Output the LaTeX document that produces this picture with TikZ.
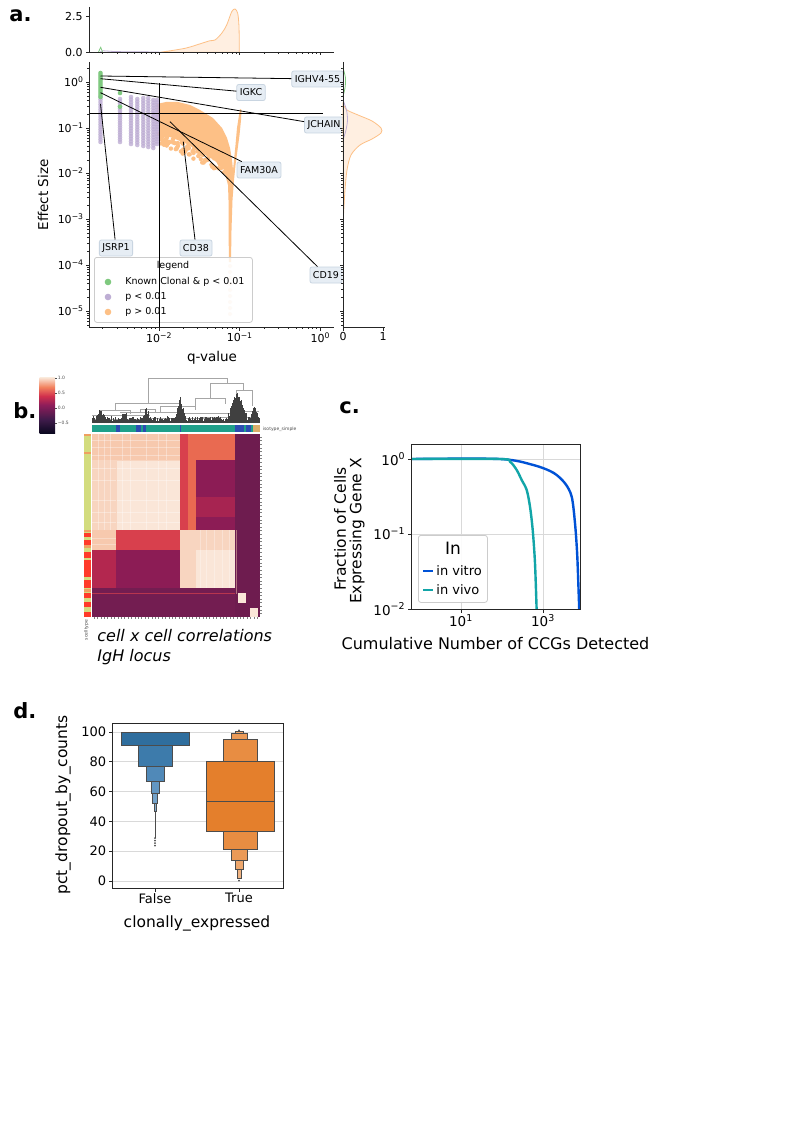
\documentclass[tikz,border=0pt]{standalone}
\usepackage{fontspec}
\setmainfont{DejaVu Sans}[BoldFont={DejaVu Sans Bold},ItalicFont={DejaVu Sans Oblique}]
\usetikzlibrary{positioning,calc}

% scatter palette
\definecolor{accG}{HTML}{7FC97F}
\definecolor{accP}{HTML}{BEAED4}
\definecolor{accO}{HTML}{FDC086}
\definecolor{boxfill}{HTML}{E6EDF4}
\definecolor{boxedge}{HTML}{C9D5E1}
% curves
\definecolor{vitro}{HTML}{0052D6}
\definecolor{vivo}{HTML}{12A5A8}
% heatmap
\definecolor{hA}{HTML}{F7C9AE}
\definecolor{hB}{HTML}{FAE6D8}
\definecolor{hC}{HTML}{F8D5C0}
\definecolor{hR}{HTML}{D8404D}
\definecolor{hO}{HTML}{E96A51}
\definecolor{hM}{HTML}{8C1C55}
\definecolor{hP}{HTML}{B3274F}
\definecolor{hK}{HTML}{6E1C4F}
\definecolor{hK2}{HTML}{731D51}
\definecolor{isoteal}{HTML}{1FA08A}
\definecolor{isoblue}{HTML}{2C4DB2}
\definecolor{isotan}{HTML}{D9AE6A}
\definecolor{rowyel}{HTML}{D3DC7E}
\definecolor{rowred}{HTML}{FF3B2A}
\definecolor{roworg}{HTML}{EFA060}
\definecolor{rk0}{HTML}{0B0820}
\definecolor{rk1}{HTML}{3F1B4A}
\definecolor{rk2}{HTML}{8E1D5A}
\definecolor{rk3}{HTML}{D1304D}
\definecolor{rk4}{HTML}{F2825E}
\definecolor{rk5}{HTML}{FAEBDD}
% boxen
\definecolor{fb1}{HTML}{2F6E9E}
\definecolor{fb2}{HTML}{3D7BAB}
\definecolor{fb3}{HTML}{5089B8}
\definecolor{fb4}{HTML}{6296C2}
\definecolor{fb5}{HTML}{74A3CB}
\definecolor{fb6}{HTML}{85AFD2}
\definecolor{tb1}{HTML}{E47F2C}
\definecolor{tb2}{HTML}{E88D42}
\definecolor{tb3}{HTML}{EB9A57}
\definecolor{tb4}{HTML}{EEA76C}
\definecolor{tb5}{HTML}{F0B381}

% colour bar (the path maps onto 25bp..75bp)
\pgfdeclareverticalshading{rocketbar}{100bp}{color(0bp)=(rk0); color(25bp)=(rk0); color(37bp)=(rk1); color(50bp)=(rk2); color(58bp)=(rk3); color(66bp)=(rk4); color(75bp)=(rk5); color(100bp)=(rk5)}

\newcommand{\dec}[1]{10\textsuperscript{#1}}

\begin{document}
\begin{tikzpicture}[x=1pt, y=-1pt, line width=0.8pt,
  tk/.style={line width=0.8pt, black!85},
  minortk/.style={line width=0.5pt, black!85},
  ticklbl/.style={font=\fontsize{11}{13}\selectfont, inner sep=1pt},
  axlbl/.style={font=\fontsize{13.5}{16}\selectfont},
  biglbl/.style={font=\fontsize{15.5}{18}\selectfont},
  panellbl/.style={font=\fontsize{21}{24}\selectfont\bfseries, anchor=base west, inner sep=0pt},
  genebox/.style={draw=boxedge, fill=boxfill, rounded corners=2pt, font=\fontsize{9.5}{11}\selectfont, inner xsep=3pt, inner ysep=2pt, minimum height=16pt},
  legbox/.style={draw=black!20, fill=white, fill opacity=0.8, rounded corners=2.5pt},
  legtxt/.style={font=\fontsize{9.5}{11}\selectfont, inner sep=0pt},
  gridc/.style={black!15, line width=0.8pt},
  boxen/.style={draw=black!70, line width=0.7pt},
  tinylbl/.style={font=\fontsize{4.5}{5}\selectfont, text=black!70, inner sep=0.5pt}]
  \useasboundingbox (0,0) rectangle (794,1123);
  \fill[white] (0,0) rectangle (794,1123);

  % ---------------- a. ----------------
  \node[panellbl] (pa) at (9,21.7) {a.};
  % orange cloud
  \fill[accO] (157,104) -- (166,102) -- (178,102) -- (190,105) -- (200,110) -- (213,118) -- (222,128) -- (227,138) -- (230,148)
    -- (232,160) -- (233,170) -- (234,160) -- (235.5,145) -- (237,128) -- (239,115) -- (240,109) -- (241.5,110) -- (241,120)
    -- (239.5,135) -- (237.5,150) -- (235.5,165) -- (234,180) -- (232.5,200) -- (231.5,230) -- (231,262) -- (229,262)
    -- (228.5,230) -- (228.5,200) -- (228,185) -- (224,170) -- (214,160) -- (200,152) -- (185,143) -- (170,137) -- (160,134) -- cycle;
  \pgfmathsetseed{7}
  \foreach \i in {1,...,80} {
    \pgfmathsetmacro{\xx}{159+68*rnd}
    \pgfmathsetmacro{\yy}{134+0.45*(\xx-160)+12*rnd-2}
    \fill[accO] (\xx,\yy) circle (2.2);
  }
  \foreach \yy in {266,272,...,316} \fill[accO, opacity=0.35] (230,\yy) circle (2);
  % purple columns
  \foreach \cx/\ya/\yb in {100.5/97/142, 120/99/142, 131/97/144, 137.3/99/145, 143.3/98/146, 148.3/98/147, 153.3/100/148, 157/100/144} {
    \foreach \j in {0,...,18} \fill[accP, opacity=0.8] (\cx,{\ya+(\yb-\ya)*\j/18}) circle (2.3);
  }
  % green
  \foreach \yy in {73,75,...,97} \fill[accG] (100.5,\yy) circle (2.3);
  \fill[accG] (120,93) circle (2.3) (120,106.7) circle (2.3);
  % thresholds
  \draw[line width=0.9pt] (89,113) -- (323,113);

  % annotations
  \coordinate (pIGHV) at (100.5,76);
  \coordinate (pIGKC) at (100.5,78.7);
  \coordinate (pJCH) at (100.5,87.3);
  \coordinate (pFAM) at (100.5,92.7);
  \coordinate (pJSR) at (100.5,104);
  \coordinate (pCD19) at (170,121.7);
  \coordinate (pCD38) at (183.3,141.7);
  \begin{scope}
    \clip (0,0) rectangle (343,330);
    \node[genebox] (ighv) at (317.5,79) {IGHV4-55};
    \node[genebox] (igkc) at (251,92.5) {IGKC};
    \node[genebox] (jchain) at (324,125) {JCHAIN};
    \node[genebox] (fam) at (259,170) {FAM30A};
    \node[genebox] (cd19) at (326,275) {CD19};
    \node[genebox] (cd38) at (196,248) {CD38};
    \node[genebox] (jsrp) at (116,248) {JSRP1};
    \draw (pIGHV) -- (ighv);
    \draw (pIGKC) -- (igkc);
    \draw (pJCH) -- (jchain);
    \draw (pFAM) -- (fam);
    \draw (pCD19) -- (cd19);
    \draw (pCD38) -- (cd38);
    \draw (pJSR) -- (jsrp);
  \end{scope}

  % legend
  \node[legbox, minimum width=158, minimum height=65, anchor=north west] (legA) at (94,257) {};
  \node[legtxt] (legAt) at (173,266) {legend};
  \foreach \yy/\cc/\txt [count=\i] in {282/accG/Known Clonal \& p < 0.01, 297/accP/p < 0.01, 312/accO/p > 0.01} {
    \fill[\cc] (108,\yy) circle (3.3);
    \node[legtxt, anchor=west] (legA\i) at (125,\yy) {\txt};
  }
  \draw[line width=0.9pt] (159,83) -- (159,327);

  % main axes
  \draw[tk] (89,62) -- (89,327) -- (334,327);
  \foreach \yy/\lab [count=\i] in {82/0,128/−1,173/−2,219/−3,265/−4,311/−5} {
    \draw[tk] (89,\yy) -- (85.5,\yy);
    \draw[tk] (343,\yy) -- (339.5,\yy);
    \node[ticklbl, anchor=east] (ya\i) at (85,\yy) {\dec{\lab}};
  }
  \foreach \e in {-6,...,0} \foreach \k in {2,...,9} {
    \pgfmathsetmacro{\yy}{82-45.8*(\e+log10(\k))}
    \pgfmathtruncatemacro{\ok}{(\yy>62)*(\yy<327)}
    \ifnum\ok=1 \draw[minortk] (89,\yy) -- (87,\yy) (343,\yy) -- (341,\yy); \fi
  }
  \foreach \xx/\lab [count=\i] in {159/−2,239.7/−1,320.4/0} {
    \draw[tk] (\xx,327) -- (\xx,330.5) (\xx,52) -- (\xx,55.5);
    \node[ticklbl, anchor=north] (xa\i) at (\xx,331) {\dec{\lab}};
  }
  \foreach \e in {-3,...,0} \foreach \k in {2,...,9} {
    \pgfmathsetmacro{\xx}{159+80.7*(\e+2+log10(\k))}
    \pgfmathtruncatemacro{\ok}{(\xx>89)*(\xx<334)}
    \ifnum\ok=1 \draw[minortk] (\xx,327) -- (\xx,329) (\xx,52) -- (\xx,54); \fi
  }
  \node[axlbl] (qlab) at (212,358) {q-value};
  \node[axlbl, rotate=90] (eslab) at (43,195) {Effect Size};

  % top marginal
  \draw[accO, fill=accO!25] plot[smooth, tension=0.5] coordinates {(160,52.3) (185,48.3) (201.7,43.3) (210,40.7) (215,40) (221.7,33.3) (226.7,25) (231.7,11.7) (235,9) (237.7,13.3) (239,26.7) (239.3,52.3)} -- cycle;
  \draw[accP] (100,52) -- (103,50.8) -- (115,51.6) -- (159,52);
  \draw[accG] (98.5,52) -- (100.7,47.3) -- (102.5,52);
  \draw[tk] (89,7) -- (89,52) -- (334,52);
  \draw[tk] (89,16.7) -- (85.5,16.7) (89,52) -- (85.5,52);
  \node[ticklbl, anchor=east] (ta1) at (84,16.7) {2.5};
  \node[ticklbl, anchor=east] (ta2) at (84,52) {0.0};

  % right marginal
  \draw[accO, fill=accO!25] plot[smooth, tension=0.5] coordinates {(343,104) (347,110) (358,115) (372,121) (381,128) (381,133) (372,139) (360,145) (351,155) (347,170) (345,190) (343.5,215)} -- cycle;
  \draw[accP] plot[smooth] coordinates {(343,100) (346.5,110) (347.5,120) (346,130) (343,140)};
  \draw[accG] plot[smooth] coordinates {(343,68) (345.5,78) (345,88) (343,96)};
  \draw[tk] (343,62) -- (343,327) -- (385,327);
  \draw[tk] (343,327) -- (343,330.5) (383,327) -- (383,330.5);
  \node[ticklbl, anchor=north] (ra1) at (343,331) {0};
  \node[ticklbl, anchor=north] (ra2) at (383,331) {1};

  % ---------------- b. ----------------
  \node[panellbl] (pb) at (13,418.3) {b.};
  % colour bar
  \shade[shading=rocketbar] (39.5,377) rectangle (55,433);
  \foreach \yy/\lab [count=\i] in {378/1.0,393/0.5,408/0.0,423/−0.5} {
    \draw[black!70, line width=0.3pt] (55,\yy) -- (56.5,\yy);
    \node[tinylbl, anchor=west] (cb\i) at (57,\yy) {\lab};
  }
  % dendrogram
  \begin{scope}[black!35, line width=0.5pt]
    \foreach \xa/\xb/\yt/\yl/\yr in {148/227/378/403/383, 115/180/403/410/406, 210/243/383/398/390, 195/225/398/406/404,
      236/252/390/400/406, 100/130/410/415/414, 160/195/406/412/410, 140/155/409/413/412} {
      \draw (\xa,\yl) -- (\xa,\yt) -- (\xb,\yt) -- (\xb,\yr);
    }
    \foreach \xa/\xb/\yy in {92/150/415, 120/178/412, 185/230/413, 200/258/417, 95/140/419, 150/210/418, 230/259/411} {
      \draw (\xa,\yy) -- (\xb,\yy);
    }
  \end{scope}
  \pgfmathsetseed{11}
  \foreach \xx in {92.5,93.2,...,259.5} {
    \pgfmathsetmacro{\hh}{2+5*rnd+19*max(0,1-abs(\xx-180)/5)+26*max(0,1-abs(\xx-237)/10)+9*max(0,1-abs(\xx-100)/5)+10*max(0,1-abs(\xx-146)/4)+12*max(0,1-abs(\xx-254)/5)+7*max(0,1-abs(\xx-124)/4)}
    \draw[black!75, line width=0.35pt] (\xx,423) -- (\xx,{423-\hh});
  }
  % isotype bar
  \fill[isoteal] (92,425) rectangle (260,432.3);
  \foreach \xa/\xb in {115.7/119.7, 136/141, 142.5/146, 180/181.2, 234.7/244, 245.5/251.3}
    \fill[isoblue] (\xa,425) rectangle (\xb,432.3);
  \fill[isotan] (253,425) rectangle (260,432.3);
  \node[tinylbl, anchor=west] (isolab) at (262,429) {isotype\_simple};
  % cell type bar
  \fill[rowyel] (84,434) rectangle (90.7,616.7);
  \foreach \ya/\yb in {533/537, 540/545, 552/558, 560/577, 580/588, 593/598, 602/607, 612/616.7}
    \fill[rowred] (84,\ya) rectangle (90.7,\yb);
  \foreach \ya/\yb in {434/436, 452/453.5, 530/532, 545/548, 589/592}
    \fill[roworg] (84,\ya) rectangle (90.7,\yb);
  \node[tinylbl, rotate=90] (ctlab) at (86.5,630) {scelltype};
  % heatmap blocks
  \foreach \xa/\xb/\ya/\yb/\cc in {
    92/116.3/434/460/hA, 116.3/179.7/434/460/hA, 179.7/188/434/460/hR, 188/196.3/434/460/hO, 196.3/234.7/434/460/hO, 234.7/259.7/434/460/hK,
    92/116.3/460/530/hC, 116.3/179.7/460/530/hB, 179.7/188/460/530/hR, 188/196.3/460/530/hO, 196.3/234.7/460/530/hM, 234.7/259.7/460/530/hK,
    92/116.3/530/550/hA, 116.3/179.7/530/550/hR, 179.7/196.3/530/550/hC, 196.3/234.7/530/550/hC, 234.7/259.7/530/550/hK,
    92/116.3/550/588.3/hP, 116.3/179.7/550/588.3/hM, 179.7/196.3/550/588.3/hC, 196.3/234.7/550/588.3/hB, 234.7/259.7/550/588.3/hK,
    92/234.7/588.3/616.7/hK2, 234.7/259.7/588.3/616.7/hK}
    \fill[\cc] (\xa,\ya) rectangle (\xb,\yb);
  \fill[hP!70!hM] (196.3,497) rectangle (234.7,517);
  \foreach \xx in {98,104,110,122,130,146,158,166} \draw[white, opacity=0.35] (\xx,434) -- (\xx,530);
  \foreach \yy in {440,447,455,468,480,500,512,522} \draw[white, opacity=0.35] (92,\yy) -- (179.7,\yy);
  \foreach \xx in {200,206,214,222,229} \draw[white, opacity=0.3] (\xx,530) -- (\xx,588.3);
  \foreach \yy in {538,544} \draw[white, opacity=0.3] (92,\yy) -- (116.3,\yy);
  \draw[hC, line width=0.7pt] (179.7,460) -- (116.3,460) -- (116.3,530);
  \draw[hR!70!hK, line width=1pt] (92,593.5) -- (234.7,593.5);
  \draw[hA, opacity=0.5, line width=0.6pt] (236,530) -- (236,594);
  \fill[hB] (238,593.3) rectangle (246.3,602.7);
  \fill[hB] (249.7,608.3) rectangle (258,616.7);
  \foreach \yy in {437,440.6,...,615} \draw[black!50, line width=0.3pt] (259.7,\yy) -- (261.5,\yy);
  \foreach \xx in {94,97.4,...,258} \draw[black!50, line width=0.3pt] (\xx,616.7) -- (\xx,618.5);
  \node[font=\fontsize{16}{19}\selectfont\itshape, anchor=base west, inner sep=0pt] (bcap1) at (97,641.7) {cell x cell correlations};
  \node[font=\fontsize{16}{19}\selectfont\itshape, anchor=base west, inner sep=0pt] (bcap2) at (97,661.7) {IgH locus};

  % ---------------- c. ----------------
  \node[panellbl] (pc) at (339,413) {c.};
  \draw[gridc] (461,444) -- (461,609) (543,444) -- (543,609) (411,459) -- (580,459) (411,534) -- (580,534);
  \begin{scope}
    \clip (411,444) rectangle (580,609);
    \draw[vitro, line width=2.4pt] plot[smooth, tension=0.5] coordinates {(411,459) (500,459) (533.3,465) (553.3,472.7) (565,483.3) (571.7,496.7) (575,523.3) (577.3,556.7) (579.3,612)};
    \draw[vivo, line width=2.4pt] plot[smooth, tension=0.5] coordinates {(411,459) (500,459) (510,461.7) (516.7,470) (521.7,480) (526.7,490) (530,506.7) (532.7,530) (535,563.3) (536.7,612)};
  \end{scope}
  \draw[tk] (411,444) rectangle (580,609);
  \foreach \yy/\lab [count=\i] in {459/0,534/−1,609/−2} {
    \draw[tk] (411,\yy) -- (407.5,\yy);
    \node[ticklbl, font=\fontsize{13.5}{15}\selectfont, anchor=east] (yc\i) at (406.5,\yy) {\dec{\lab}};
  }
  \foreach \xx/\lab [count=\i] in {461/1,543/3} {
    \draw[tk] (\xx,609) -- (\xx,612.5);
    \node[ticklbl, font=\fontsize{13.5}{15}\selectfont, anchor=north] (xc\i) at (\xx,613) {\dec{\lab}};
  }
  \node[legbox, fill opacity=0.9, minimum width=69, minimum height=67, anchor=north west] (legC) at (418,535) {};
  \node[font=\fontsize{17}{20}\selectfont] (legCt) at (453,548) {In};
  \draw[vitro, line width=2.4pt] (423,571) -- (433,571);
  \draw[vivo, line width=2.4pt] (423,590) -- (433,590);
  \node[font=\fontsize{13}{15}\selectfont, anchor=west, inner sep=0pt] (legC1) at (436,571) {in vitro};
  \node[font=\fontsize{13}{15}\selectfont, anchor=west, inner sep=0pt] (legC2) at (436,590) {in vivo};
  \node[biglbl, rotate=90] (cy1) at (340,529) {Fraction of Cells};
  \node[biglbl, rotate=90] (cy2) at (357,531) {Expressing Gene X};
  \node[font=\fontsize{16}{19}\selectfont] (cxl) at (495.5,644) {Cumulative Number of CCGs Detected};

  % ---------------- d. ----------------
  \node[panellbl] (pd) at (13,718.3) {d.};
  \foreach \v [count=\i] in {0,20,...,100} {
    \pgfmathsetmacro{\yy}{881-1.49*\v}
    \draw[gridc] (112,\yy) -- (283,\yy);
    \draw[tk] (112,\yy) -- (108.5,\yy);
    \node[ticklbl, font=\fontsize{13}{15}\selectfont, anchor=east] (yd\i) at (107.5,\yy) {\v};
  }
  % False
  \foreach \xa/\xb/\ya/\yb/\cc in {121/189/732.3/745.7/fb1, 138.3/172.3/745.7/766.7/fb2, 146.7/164/766.7/781.7/fb3,
    151/159.3/781.7/793.3/fb4, 152.7/157.3/793.3/803.3/fb5, 154/156/803.3/811.7/fb6}
    \filldraw[boxen, fill=\cc] (\xa,\ya) rectangle (\xb,\yb);
  \draw[black!70, line width=0.7pt] (155,811.7) -- (155,838);
  \foreach \yy in {838,840.5,...,847} \fill[black!70] (155,\yy) circle (1);
  % True
  \foreach \xa/\xb/\ya/\yb/\cc in {206/274/761.7/831.7/tb1, 223/257/739.3/761.7/tb2, 223/257/831.7/849.3/tb2,
    231/247.7/733.3/739.3/tb3, 231/247.7/849.3/860.7/tb3, 235/243/731.2/733.3/tb4, 235/243/860.7/869.3/tb4, 237/241/869.3/878.3/tb5}
    \filldraw[boxen, fill=\cc] (\xa,\ya) rectangle (\xb,\yb);
  \draw[black!70, line width=0.7pt] (206,801) -- (274,801);
  \fill[black!70] (239,880.5) circle (1) (239,730.3) circle (1);
  \draw[tk] (112,723) rectangle (283,888);
  \foreach \xx/\lab [count=\i] in {155/False,239/True} {
    \draw[tk] (\xx,888) -- (\xx,891.5);
    \node[ticklbl, font=\fontsize{13}{15}\selectfont, anchor=north] (xd\i) at (\xx,892) {\lab};
  }
  \node[font=\fontsize{15.5}{18}\selectfont] (dxl) at (197,923) {clonally\_expressed};
  \node[font=\fontsize{15.5}{18}\selectfont, rotate=90] (dyl) at (63,805) {pct\_dropout\_by\_counts};
\end{tikzpicture}
\end{document}
